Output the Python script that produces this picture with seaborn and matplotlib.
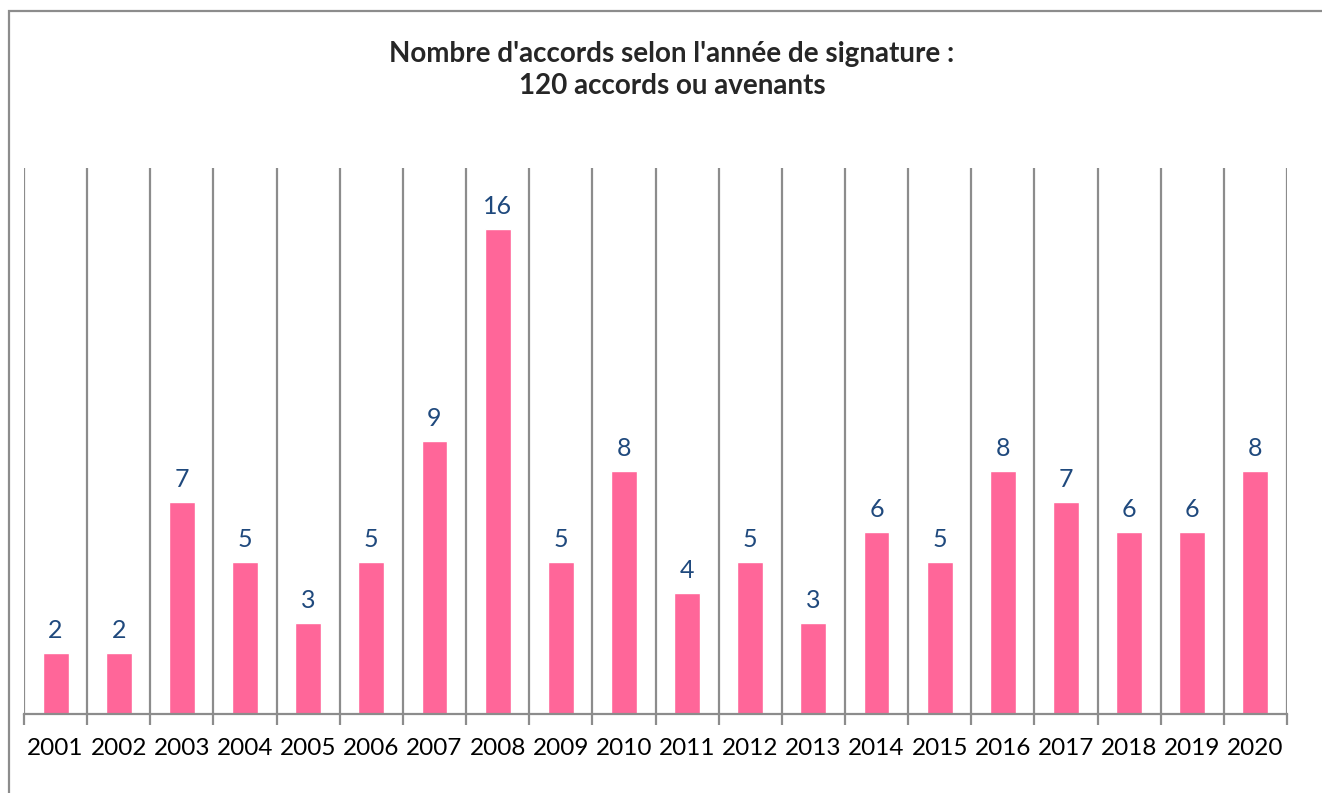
import seaborn as sns
import matplotlib.pyplot as plt
import pandas as pd
from matplotlib.patches import Rectangle

years = ['2001', '2002', '2003', '2004', '2005', '2006', '2007', '2008', '2009', '2010',
         '2011', '2012', '2013', '2014', '2015', '2016', '2017', '2018', '2019', '2020']
counts = [2, 2, 7, 5, 3, 5, 9, 16, 5, 8, 4, 5, 3, 6, 5, 8, 7, 6, 6, 8]

df = pd.DataFrame({'annee': years, 'nb': counts})

sns.set_style('white')
plt.rcParams['font.family'] = ['Lato', 'DejaVu Sans']

W, H = 1322, 793
fig = plt.figure(figsize=(W / 100, H / 100), dpi=100)
ax = fig.add_axes([24 / W, (H - 714) / H, (1287 - 24) / W, (714 - 168) / H])

sns.barplot(data=df, x='annee', y='nb', color='#FF6699', saturation=1,
            width=0.41, ax=ax)

ax.set_ylim(0, 18)
ax.set_xlim(-0.5, len(years) - 0.5)
ax.set_yticks([])
ax.set_xlabel('')
ax.set_ylabel('')

# vertical separators between categories
ax.set_xticks([i - 0.5 for i in range(len(years) + 1)], minor=True)
ax.grid(True, which='minor', axis='x', color='#8c8c8c', linewidth=1.6)
ax.grid(False, which='major')
ax.tick_params(axis='x', which='minor', length=8, width=1.6, color='#8c8c8c',
               direction='out', bottom=True)
ax.tick_params(axis='x', which='major', length=0, pad=17, labelsize=17.5,
               labelcolor='black')

for s in ['top', 'right', 'left']:
    ax.spines[s].set_visible(False)
ax.spines['bottom'].set_color('#8c8c8c')
ax.spines['bottom'].set_linewidth(1.6)

ax.bar_label(ax.containers[0], padding=8, fontsize=18, color='#1F497D')

fig.suptitle("Nombre d'accords selon l'année de signature :\n120 accords ou avenants",
             x=672 / W, y=1 - 41 / H, fontsize=20, fontweight='bold',
             linespacing=1.28, va='top')

# outer chart frame
fig.patches.append(Rectangle((9 / W, -0.1), 1.2, 1 - 11 / H + 0.1,
                             transform=fig.transFigure, fill=False,
                             edgecolor='#8c8c8c', linewidth=1.6))

fig.savefig('out.png', dpi=100)
